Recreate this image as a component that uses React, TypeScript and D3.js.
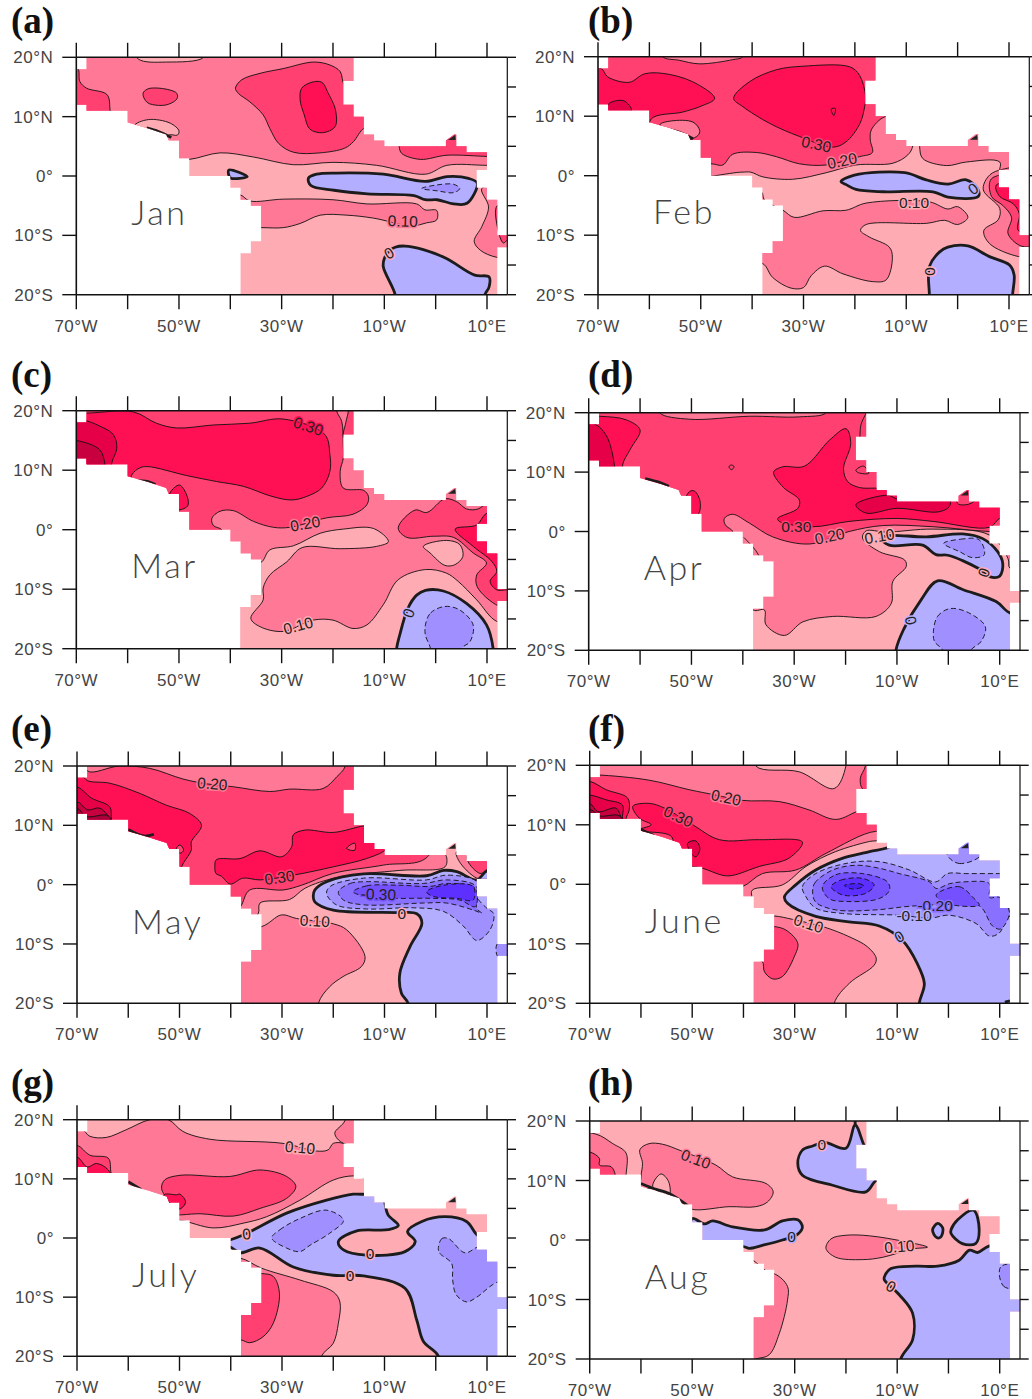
import React from "react";
import * as d3 from "d3";

type Shape = [number | null, number | null, number[]];
type Lab = [number, number, string, number, number];

const oceanOutline = [-68,20,-16,20,-16,16,-18,16,-18,12,-16,12,-16,10,-14,10,-14,7,-12,7,-12,6,-10,6,-10,5,2,5,2,6,3.6,7,4,7,4,5,6,5,6,4,10,4,10,1,8,1,8,-2,10,-2,10,-4,12,-4,12,-10,14,-10,14,-12,12,-12,12,-20,-38,-20,-38,-13,-36,-13,-36,-11,-34,-11,-34,-5,-36,-5,-36,-4,-38,-4,-38,-2,-40,-2,-40,0,-48,0,-48,3,-50,3,-50,6,-52,6,-52.5,7,-56,8,-60,9,-60,11,-68,11,-68,12,-70,12,-70,18,-68,18];
const islandWedge = [2.4,6.05,3.9,6.05,3.8,6.9];

const janShapes: Shape[] = [
  [.15,.1,[-48,2.8,-42,3.9,-35.5,3.2,-27.7,1.9,-20,2.3,-11.5,1.8,-2,.3,2.2,1.8,10,1.8,16,1.8,16,25,-75,25,-75,8,-52,3]],
  [.05,.1,[-57.9,19.7,-52.4,19.2,-45.2,20,-45,22,-59,22]],
  [.05,.1,[-58.7,8.4,-56,9.5,-51.7,8.9,-50,7.6,-50.3,6.9,-52,6.9,-54,5]],
  [.25,.2,[-69.8,18.2,-69.3,15.9,-68,14.8,-64,13.7,-63.4,11,-63,9,-75,9,-75,18.2]],
  [.25,.2,[-57,13.9,-56,14.7,-52.3,14.6,-50.4,13.9,-50.4,13,-52,12.1,-54,11.9,-56.2,12.4]],
  [.25,.2,[-39,14.8,-37.8,16.2,-34.2,17.3,-29.7,18.1,-23.8,19.2,-20.6,18.7,-18.6,17.6,-17.7,15.3,-14,15,-12,8,-14,8,-16,5.8,-17.7,4.7,-22.5,3.9,-27.7,4,-30.6,5.5,-32.3,8,-33.6,10.3,-36.2,12.5,-38.4,13.9]],
  [.35,.3,[-26.4,12.8,-26.1,14.8,-24.1,15.8,-22.2,15.8,-20.9,13.9,-19.5,11.1,-19.6,8.3,-22,7.3,-24.5,7.9,-25.6,10.3]],
  [.25,.2,[-7.1,4.9,-6.6,3.8,-3,2.8,2.2,3.5,10,3.3,12,3.3,12,7,-7.1,7]],
  [.15,.1,[9,-2.1,10.3,-5.2,9,-8.5,7.5,-11,8.7,-12.5,11.9,-13.7,16,-13.7,16,-2.1]],
  [.25,.2,[12,-5,12,-8.5,13.2,-11.3,14,-10.8,16,-11,16,-5]],
  [.15,.1,[-38,-3.2,-36.2,-4.2,-29.7,-3.9,-20,-4,-13.4,-4.7,-3.7,-4.7,-2.1,-5.7,.2,-5.8,.2,-7.4,-1.8,-7.9,-4.7,-8.4,-12.1,-7.1,-17.3,-6.6,-22.5,-6.6,-26.4,-8,-29.7,-8.7,-33.9,-8.7,-40,-8.7,-40,-3.2]],
  [-.05,0,[-24.8,-.4,-23.2,.3,-19.3,.5,-10.2,.3,-2,-.9,2.2,-.1,6.4,-.4,8.1,-1.2,6.1,-4.6,3.5,-4.7,.3,-4,-2,-4,-4.2,-3.3,-13.3,-3,-19.8,-2.4,-24.3,-1.6]],
  [-.15,-.1,[-2.7,-2.1,.3,-1.5,3.5,-1.4,4.7,-2.1,3.5,-2.8,.3,-2.5]],
  [-.05,0,[-40.3,1,-36.7,-.1,-40,-.3]],
  [-.05,0,[-7.9,-12,-6,-11.8,-2.4,-12.4,2.1,-13.9,7.6,-16.7,10.4,-17,10.4,-18.7,9.6,-20,9.6,-22,-7.9,-22,-7.9,-20,-10.2,-15.3,-10,-13.9,-9,-12.6]],
  [null,0,[-56.3,8.1,-54,7.5,-51.5,6.5]],
];
const janLabels: Lab[] = [[-6.4,-7.6,"0.10",2,.15],[-9.1,-13,"0",-30,.05]];

const febShapes: Shape[] = [
  [.15,.1,[-40.3,.6,-37.9,-.2,-32.1,-.6,-25.6,.5,-19.8,1.8,-12.6,2.1,-9.7,3.5,-8.7,5.1,-8.7,25,-75,25,-75,0,-42,.6]],
  [.15,.1,[-7.4,4.9,-6.8,2.9,-2.2,1.7,1.7,2.3,8.2,2.3,8.2,0,16,0,16,8,-7.4,8]],
  [.25,.2,[-48,2,-45.7,1.8,-43.8,3.6,-39.2,3.9,-35.3,3.2,-30.8,2,-25.6,1.8,-19.1,3.2,-16.6,3.9,-17,6,-16.8,7.7,-14.2,9.9,-10,10,-10,25,-75,25,-75,2]],
  [.15,.2,[-57.4,20,-54.2,19.4,-50.3,18.8,-43.8,19.5,-41.8,20,-41.8,22,-57.4,22]],
  [.35,.3,[-69.4,18,-68.1,16.6,-63.9,15.7,-61,17.1,-57.4,17.2,-51.6,15.8,-47.3,13,-49.9,11.7,-53.5,10.7,-59.7,9.5,-60,5,-75,5,-75,18]],
  [.45,.4,[-68,12,-65,12.6,-63.5,11,-68,10]],
  [.15,.2,[-58,8.5,-55.7,9.2,-51.5,9,-50.2,7.6,-50.5,6.8,-52.2,6,-55,5]],
  [.35,.3,[-43.6,13,-40.5,15.8,-35.3,17.8,-30.1,18.4,-21,18.3,-19.1,16.9,-17.9,13.3,-18.1,11.6,-19,8.8,-21.7,5.7,-24.3,4.8,-30.8,6.6,-36.6,8.8,-41.8,11.6]],
  [.35,.3,[-24.6,11.2,-23.8,11.3,-24.1,10.1]],
  [.15,.1,[-38.2,-2.7,-37.6,-4.1,-34,-5.8,-31.8,-7,-26.2,-5.9,-21.7,-5.8,-17.8,-4.6,-5.5,-4.4,-1.9,-5.6,0,-5.2,2,-7,0,-8.2,-2.5,-7.5,-6,-8,-17.8,-8.2,-18.9,-9.2,-17.2,-10.3,-13.3,-12,-12.7,-13.7,-13.9,-17.5,-16.5,-17.8,-22.3,-16.5,-25.9,-15.2,-28.5,-16.8,-30,-18.8,-32.4,-18.9,-36,-17.1,-37.9,-14.8,-42,-14.8,-42,-2.7]],
  [.15,.1,[8,.9,5.9,-.2,5,-2.4,8.2,-5.5,7.9,-7.4,5.1,-9.2,6.2,-11.4,11.9,-13.6,16,-13.6,16,.9]],
  [.25,.2,[6.6,-.5,6.6,-3.5,8.8,-5,10.5,-7,9.8,-9.7,12,-11.7,14,-12,16,-12,16,-.5]],
  [.35,.3,[7.5,-1.6,8.2,-3.5,10.8,-4.7,12,-6.4,11.8,-9.2,16,-9.2,16,-1.6]],
  [-.05,0,[-22.7,-1,-20.1,.1,-10.3,.5,-6.1,-.7,-1.9,-1.4,1.7,-.7,4,-2.4,4,-3.5,-1.9,-3.6,-4.8,-2.7,-14.5,-2.7,-19.8,-2.3,-21.7,-1.5]],
  [-.05,0,[-5.5,-20,-5.5,-15.3,-3.5,-12.8,-1.9,-12,2,-11.8,6.2,-13.6,10.1,-15,11,-16.7,10.7,-20,10.7,-22,-5.5,-22]],
  [null,0,[-58,8,-54.5,7.4,-51.5,6.2]],
];
const febLabels: Lab[] = [[-27.5,5.3,"0.30",12,.25],[-22.5,2.5,"0.20",-12,.15],[-8.5,-4.5,"0.10",0,.05],[3,-2.2,"0",-35,-.05],[-5.3,-16.1,"0",90,.05]];

const marShapes: Shape[] = [
  [.25,.2,[-41.7,0,-43.3,.7,-43.6,1.9,-42,3.1,-39.4,3.2,-35.5,1.4,-31.6,.4,-28.4,.4,-21.2,2,-16.1,2.6,-13.4,4.2,-13.1,5.6,-14,6.6,-18,7,-18.6,9.8,-18,12,-18,14.3,-18.3,18.2,-19.3,20,-19.3,25,-75,25,-75,-1,-42,-1]],
  [.25,.2,[-17,20,-17.5,18,-17.8,15.4,-10,15.4,-10,25,-17,25]],
  [.35,.3,[-68,19.6,-58.9,19.8,-54.4,17.9,-50.5,17.1,-43.3,17.6,-36.2,17.9,-29.7,18.6,-21.6,16,-20.6,12.6,-20.6,9.8,-22.2,7,-25.1,5.6,-28,5,-31.9,5.6,-37.5,7.3,-42.7,8.1,-48.5,9.1,-56,10.6,-57.6,10.4,-59.2,9.2,-60,5,-75,5,-75,19.6]],
  [.45,.4,[-69,18.5,-65.4,17.4,-62.8,16,-62.1,13.7,-63.1,11.2,-63,9,-75,9,-75,18.5]],
  [.55,.5,[-70,15,-65.4,13.4,-64.4,11,-64,9,-75,9,-75,15]],
  [.35,.3,[-51.8,6.1,-49.9,7.5,-48.4,5.6,-48.3,4,-50,3.3,-52,3.3]],
  [.05,.1,[-34.2,-5.6,-32.3,-3.4,-27.7,-2.7,-22.5,-.6,-18,.1,-12.1,.2,-9.2,-2,-11.5,-2.8,-18.6,-3.2,-26,-3,-29,-5.4,-32.3,-7.6,-33.6,-9.8,-33.6,-11.8,-36,-14.9,-34.2,-16.3,-29.7,-17.1,-23.9,-15.2,-20,-15.2,-16.1,-16.6,-13.4,-16,-10.2,-12.6,-7.3,-8.4,-2,-6.7,2.1,-7.3,4.4,-8.7,8,-11.8,11.9,-15.4,16,-15.4,16,-25,-45,-25,-45,-5.6]],
  [.05,.1,[-2.4,-2.8,2.1,-1.8,4.7,-2.5,5.3,-4.5,3.7,-5.9,1.8,-6,-1.1,-3.9]],
  [.25,.2,[-7.3,.3,-4,3.3,-1.7,2.9,1.8,5.2,4.1,4.7,6,3.5,8.3,3.5,12,6,16,6,16,-13.2,12.2,-12.8,8.1,-9.6,8,-7.6,9.9,-5.6,7.3,-3.9,3.5,-1.3,-.4,-1.1,-5.6,-1.3]],
  [.35,.3,[10,2.8,8,.8,3.8,.1,7.3,-2.8,10.9,-5.3,11.9,-7,10.6,-8.7,11.9,-10.1,13.9,-10.1,16,-10,16,2.8]],
  [-.05,0,[-7.6,-20,-7,-17.7,-5.4,-13.2,-3.7,-11,-2,-10.2,1.5,-10.3,6,-12.4,9.9,-16,11.2,-20,11.2,-22,-7.6,-22]],
  [-.15,-.1,[-2,-16,-1,-14,1.8,-12.9,4.7,-13.5,7.3,-16,6.7,-18.8,5,-20,5,-22,-1,-22,-1,-20,-2,-17.7]],
  [null,0,[-59.2,8.3,-56,8.1,-54.6,7.6]],
];
const marLabels: Lab[] = [[-24.8,17.4,"0.30",18,.35],[-25.4,1,"0.20",-10,.15],[-26.8,-16.1,"0.10",-15,.05],[-5.3,-14,"0",-70,-.05]];

const aprShapes: Shape[] = [
  [.15,.1,[-35.8,-13.2,-35.5,-15.7,-31.9,-17.5,-28.3,-15.2,-22.5,-14.3,-14.1,-14.3,-11.1,-12.1,-10.8,-8.4,-8.2,-5.9,-8.5,-4.8,-13.4,-3.4,-16.7,-1.1,-16,.1,-12.1,-.1,-3,.4,8,-.6,11.6,-4.5,12,-6.2,16,-6,16,25,-75,25,-75,-5,-42,-5,-38,-13.2]],
  [.25,.2,[-42,0,-43.4,1.1,-43.6,2.2,-42,2.9,-38.7,1.4,-34.2,-.9,-27,-2.1,-19.3,0,-12.8,1,-3,.8,8,0,16,0,16,25,-75,25,-75,-1,-43,-1]],
  [.15,.2,[-56.2,20,-50.4,18.9,-38.7,19.4,-29,19.3,-23.8,20,-23.8,22,-56.2,22]],
  [.35,.3,[-67.9,19.4,-62.7,18.8,-60,17.1,-61.8,14,-63.4,11.2,-63,9,-75,9,-75,19.4]],
  [.45,.4,[-69.1,18.2,-66.6,16.2,-65,11.2,-65,9,-75,9,-75,18.2]],
  [.35,.3,[-50.4,6.7,-49.4,6.8,-48.3,5,-48.8,2.8,-52,2.8]],
  [.25,.3,[-42.7,10.9,-42.2,11.2,-41.7,10.9,-42.2,10.4]],
  [.35,.3,[-34,10,-32.2,10.9,-28,11,-23.1,15.4,-19.9,17.3,-19,14.8,-20.4,10.6,-19.6,8.4,-17.3,7.4,-14.4,7.3,-11.8,7.3,-8,7.3,-8,5.5,1.2,5.5,2,4.6,4,4.6,6,5.5,12,5.5,12,2.2,10,2.2,8,.7,-3,1.7,-10,2.2,-19.3,1.7,-26.4,.8,-32.9,1.7,-33.2,2.2,-29.3,3.9,-29,5.3,-32.2,7.5]],
  [.45,.4,[-18,4.5,-11.8,6.1,-10,5.5,.2,5.5,.2,4.2,-2,3.3,-10,3.9,-16,3.1]],
  [.25,.3,[-18,10.3,-16.5,11,-15.5,9.8,-17.5,9.9]],
  [null,.3,[-16,19.9,-17,18,-17.2,15.7]],
  [-.05,0,[-13.1,-1.2,-11.8,-.7,-4.3,-.9,2.8,-.4,6.7,-1.2,9.6,-3.4,10.6,-5.4,10,-7.5,8,-7.6,5.8,-6.2,-.1,-4,-2.4,-3.9,-5,-2.3,-11.5,-2.3]],
  [-.15,-.1,[-.9,-2,2.4,-1.3,6,-1.4,7,-3.9,4.7,-4.4,2.2,-3.4]],
  [-.05,0,[-10.2,-20,-8.6,-16.3,-5.3,-11.5,-2.1,-8.3,2.9,-9.8,9.3,-11.8,12,-13.7,16,-14,16,-25,-10.2,-25]],
  [-.15,-.1,[-2.9,-16.8,-2.1,-14.3,.2,-13,3.5,-13.5,7.2,-16,6.4,-18.5,4.4,-20,4.4,-22,-1.1,-22,-1.1,-20,-2.7,-18.5]],
  [null,0,[-59,8.9,-56,8.2,-54.4,7.6]],
  [null,.1,[-39.8,-1,-37.5,-3.2,-36.2,-5.2]],
];
const aprLabels: Lab[] = [[-29.6,.9,"0.30",0,.25],[-23.1,-.8,"0.20",-12,.15],[-13.4,-.8,"0.10",-10,.05],[6.9,-6.9,"0",-70,.05],[-7.3,-15,"0",80,-.05]];

const mayShapes: Shape[] = [
  [.15,.1,[-34.6,-4.8,-34.3,-3.1,-28.5,-2.5,-25.5,-.6,-19.3,1.2,-7,2.4,1.8,3,2.1,4.7,1.5,5.5,1.5,25,-75,25,-75,-6,-36,-6]],
  [.15,.1,[4.1,5.6,4.6,3.9,8,1.1,10,1,16,1,16,5.6]],
  [.25,.2,[6.3,3.9,8.6,1.9,10,2.2,16,2.2,16,5,6.3,5]],
  [.25,.2,[-38.1,-3.7,-36.3,-.9,-29.8,-.9,-26.2,-.1,-20,1.9,-10.2,3.3,-1.4,4.9,-1.4,25,-75,25,-75,-5,-40,-5]],
  [.15,.2,[-68,19.2,-61.7,20,-55.8,19.6,-49.3,17.8,-44.7,17,-39.5,16.5,-32.4,15.7,-28.5,16.1,-22,16.2,-19.3,18.2,-17.7,19.9,-17.7,25,-68,25]],
  [.35,.3,[-69.2,18.4,-67.9,17.5,-63.6,17.1,-57.8,15.4,-52.6,13.4,-48,12,-45.7,10,-47.7,7.2,-47.7,5.8,-49.6,3,-50,0,-75,0,-75,18.4]],
  [.35,.3,[-42.9,1.9,-43.1,3,-42.8,4.2,-38.2,4.4,-34.3,5.7,-30.1,4.7,-28.1,6.4,-27.8,8.4,-25.5,9.2,-20,8.8,-14.1,9.9,-12,10,-9,7,-9.9,5.8,-13.5,4.4,-20,3,-27.8,1.6,-34.3,.8,-37.6,1.1,-40.1,.1,-41.8,1.4]],
  [.25,.3,[-17.4,6.1,-15.8,7,-15.8,5.8]],
  [.25,.3,[-50.6,6.1,-49.9,6.7,-49.2,5.8,-49.9,5.3]],
  [.45,.4,[-70,16.5,-67.2,14.6,-63.6,13.1,-63.3,11,-63,9,-75,9,-75,16.5]],
  [.55,.5,[-70,14,-67.9,12.6,-65.6,12.9,-63.6,11.1,-63,9,-75,9,-75,14]],
  [.65,.6,[-70,12.9,-68.2,11.5,-63.9,11.6,-63,9,-75,9,-75,12.9]],
  [.15,.1,[-34.1,-7.1,-30.1,-5.1,-27.2,-5.7,-20,-6.6,-17.4,-7.6,-13.8,-12.1,-14.5,-13.8,-18.1,-15.5,-20.7,-17.2,-22.9,-20,-22.9,-25,-45,-25,-45,-7.1]],
  [-.05,0,[-23.9,-2,-23.6,-.9,-21.3,.5,-14.1,1.8,-1.8,1.5,1.5,2.4,4.1,2.2,8,.8,10.1,2.4,16,2.4,16,-25,-5.4,-25,-5.4,-20,-6.7,-18.3,-7,-14.9,-5,-10.4,-2.7,-6.5,-3.7,-4.9,-7.6,-4.7,-20,-4.3,-23.6,-2.9]],
  [-.15,-.1,[-21.3,-1.5,-20.6,-.3,-14.1,1.1,-1.8,.8,2.1,1.6,8,.5,8,-2,10,-4,11.3,-4.9,10.6,-7.6,8,-9.4,5.4,-7,1.5,-4.5,-4.4,-3.9,-13.5,-4.1,-19.4,-3.4]],
  [-.25,-.2,[-19,-1.2,-16.7,.2,-13.5,.5,-2.4,.2,2.1,.8,7.9,-.3,8,-4,9,-4.8,7.4,-4.3,2.1,-3.1,-2.4,-3.1,-14.1,-3.4,-18,-2.6]],
  [-.35,-.3,[-16.1,-1.2,-13.5,-.2,-7,-.1,-1.1,-.3,2.1,.2,7.7,-.6,7.7,-3.7,4.7,-2.6,-1.1,-2.3,-8.3,-2.3,-13.5,-2]],
  [-.45,-.4,[-1.8,-1.2,1.5,-.1,7.3,-.3,7.3,-2.6,4.1,-2.3,-.4,-2]],
  [-.15,-.1,[12,-10,14,-10,14.5,-11,13,-12.5,12,-12]],
  [null,0,[-60,9.3,-57,8.2,-55,8.5]],
];
const mayLabels: Lab[] = [[-43.6,17,"0.20",5,.15],[-30.5,1.2,"0.30",-8,.25],[-11.2,-1.6,"-0.30",2,-.35],[-23.6,-6.1,"0.10",3,.05],[-6.6,-4.8,"0",0,.05]];

const junShapes: Shape[] = [
  [.15,.1,[-38.3,-2.9,-38.3,-1,-32.4,-.1,-27.8,3,-22,5.5,-15.4,7.2,-13.2,7.5,-12,9,-12,25,-75,25,-75,-5,-40,-5]],
  [.05,.1,[-37.6,19.9,-29.1,18.9,-22.3,16.1,-20,19.9,-20,25,-37.6,25]],
  [.25,.2,[-16.2,19.9,-17.2,17.8,-16.6,15.9,-10,15.9,-10,25,-16.2,25]],
  [.25,.2,[-68.8,18.4,-58.4,17.5,-50.6,15.9,-45.4,15,-40.2,14.1,-33,13.9,-27.2,12.5,-22,10.9,-16.8,12.5,-10,12.5,-10,8,-14.2,8.9,-23.9,5.2,-29.8,2.4,-36.3,1.8,-40.2,-.4,-45,-1,-75,-1,-75,18.4]],
  [.35,.3,[-61.6,13.1,-58.4,13.6,-55.4,12.8,-49.9,10,-44.7,7.5,-36.9,7.5,-28.5,7.1,-31.1,4.4,-36.9,3,-42.1,1.5,-44,1.5,-48,2.7,-50,3,-54,3,-54,8,-61,9,-58,10,-60.3,11.1]],
  [.45,.4,[-50.9,6.9,-49.3,7.3,-48.5,6,-49.3,4.6,-50.2,5.2]],
  [.35,.3,[-70,17.3,-66.8,15.9,-62.6,14.5,-62.3,12.5,-62.9,11.1,-63,9,-75,9,-75,17.3]],
  [.45,.4,[-70,15,-66.8,14.2,-63.6,13.3,-63.6,11.1,-63,9,-75,9,-75,15]],
  [.55,.5,[-70,13.6,-68.4,12.2,-64.9,12.8,-63.9,11.3,-63,9,-75,9,-75,13.6]],
  [.65,.6,[-69.7,12.5,-68.1,11.5,-64.2,11.5,-63,9,-75,9,-75,12.5]],
  [.15,.1,[-34.2,-5.3,-30.4,-5.9,-24.2,-7.2,-19.4,-8.8,-15.8,-10.5,-14.1,-12.4,-14.5,-13.6,-19.3,-16.6,-22.3,-20,-22.3,-25,-45,-25,-45,-5.3]],
  [.25,.2,[-34,-7.1,-31.7,-7.7,-29.4,-9.9,-30.1,-12.2,-32.4,-15.5,-34.3,-15.9,-35.9,-14.7,-36.3,-13,-37.7,-12.8,-40,-12.8,-40,-7.1]],
  [-.05,0,[-11.2,6.5,-15.4,5.5,-20.6,4.4,-25.9,2.4,-29.8,-.1,-32,-2.1,-31.4,-3.2,-25.9,-5.4,-19.4,-6.3,-13.5,-7,-9,-9.4,-6.1,-13.3,-4.7,-16.7,-5.7,-20,-5.7,-25,16,-25,16,8,-11.2,8]],
  [-.15,-.1,[-27.8,-2.1,-28.5,-.4,-25.9,1.8,-19.4,3.6,-13.5,3.8,-7.6,2.4,-2.5,.4,-.2,1.8,3.4,1.8,9.9,1.8,16,1.8,16,-6,11.9,-5.4,9.9,-8.2,8,-8.7,5.4,-6.6,.2,-5.2,-3.7,-5.7,-9.3,-5.2,-20.7,-4.9,-25.9,-4]],
  [-.15,-.1,[-.2,4.9,2.1,3.5,6.3,4.9,6.3,9,-.2,9]],
  [-.25,-.2,[-26.5,-1.3,-26.1,.2,-22.6,2.4,-18,3.2,-13.5,2.7,-9.6,1.8,-3.7,.4,-2.4,-.7,.2,.1,2.8,.4,8,.1,8,-2.2,9.9,-2.2,11.9,-4.7,10.2,-7.5,8.6,-7,6,-3.6,-.5,-3.4,-7.7,-3.7,-14.2,-4.3,-22,-4.3,-25.9,-3]],
  [-.35,-.3,[-24.6,-.4,-22,1.6,-16.8,1.8,-11.9,.4,-11.5,-1,-13.5,-2.4,-19.4,-2.9,-23.3,-2.4]],
  [-.35,-.3,[-2.4,-1.8,2.1,-.4,5,-2.4,6,-3.5,-.5,-3.2]],
  [-.45,-.4,[-22.9,-.4,-21,.7,-16.8,1,-14.5,-.1,-16.1,-1.5,-20.6,-1.8]],
  [-.55,-.5,[-20.3,-.2,-17.4,.1,-16.5,-.3,-18.7,-.8]],
  [null,0,[-60,9.2,-57.5,8.2]],
  [null,0,[11,-19.8,12,-19.6]],
];
const junLabels: Lab[] = [[-43.4,14.6,"0.20",12,.15],[-52.7,11.4,"0.30",25,.25],[-27.3,-6.6,"0.10",18,.05],[-2.6,-3.6,"-0.20",0,-.25],[-6.7,-5.3,"-0.10",0,-.05],[-9.6,-8.8,"0",-30,-.05]];

const julShapes: Shape[] = [
  [.15,.1,[-69.2,18.5,-67.5,17.2,-64.3,17,-60.4,18.3,-55.8,20,-52.2,20,-49.3,18,-44.1,16.7,-29.8,16,-23.3,14.7,-21,14.9,-20,16,-18,16,-16,15,-12,10,-14.5,10.2,-16.1,10.5,-20,9.8,-26.5,6.4,-33,3.6,-37.6,2.5,-43.4,1.7,-50,3,-55,3,-75,3,-75,18.5]],
  [.15,.1,[-17.7,19.9,-19.7,17.7,-18,16,-12,16,-12,25,-17.7,25]],
  [.25,.2,[-53.5,8.4,-52.9,9.8,-49.9,10.6,-40.2,10.4,-34.3,11.5,-29.1,10.4,-27.3,8.7,-29.1,6.7,-34.3,5,-39.5,3.7,-46,4.1,-49.9,3.9,-51,3.9,-52,6]],
  [.35,.3,[-50.6,7.3,-49.9,7.4,-48.8,6.1,-49.9,4.9,-53,5,-53,7.3]],
  [.25,.2,[-70,15.7,-67.5,14,-63.9,13.5,-63.4,11.2,-63,9,-75,9,-75,15.7]],
  [.35,.3,[-70,13.7,-68,12,-66.2,12.6,-63.9,11.5,-63,9,-75,9,-75,13.7]],
  [.15,.1,[-38.1,-3.4,-34,-5.1,-26.5,-7.1,-20,-9.1,-18.7,-10.8,-19,-14.4,-20,-17.8,-22.3,-20,-22.3,-25,-42,-25,-42,-3.4]],
  [.25,.2,[-34.1,-6,-31.7,-6.5,-30.5,-9.4,-31.7,-14.4,-33.7,-16.7,-36.3,-17.7,-38.1,-17.2,-42,-17.2,-42,-6]],
  [-.05,0,[-41.2,-.6,-37.6,.5,-29.1,4.2,-21.3,6.4,-16.1,7.4,-12.8,7.4,-10,8,-9.9,5.9,-9.3,3.9,-7.3,2.1,-9.3,1.4,-15.4,1.2,-19,-.6,-18,-2,-13.5,-2.9,-6,-2.3,-4,-.6,-5.5,1.1,-2.7,2.8,1.8,3.6,6,2.8,8.6,.2,16,.2,16,-25,.5,-25,.5,-20,-2.4,-17.5,-3.7,-13.9,-6,-8.5,-14.1,-6.4,-20,-6.3,-27.8,-4.9,-34.3,-1.7,-38.2,-2.5,-40.2,-1.5,-45,-1]],
  [-.15,-.1,[-32,0,-30.4,1.4,-26.5,3.3,-21.3,4.7,-18,3,-20.7,.8,-24.5,-1.2,-26.5,-2.3,-29.1,-1.7]],
  [-.15,-.1,[.5,-1.8,1.2,-.1,2.5,-.1,5.7,-2.5,8.6,-1.4,16,-1.4,16,-7,11.9,-7.5,8,-10,6,-10.8,4,-9.6,3.3,-7.1,3.1,-4.3,.8,-2.6]],
  [null,0,[-60,9.5,-57.5,8.2]],
  [null,.1,[-57,8.1,-52.5,6.2,-50,5]],
];
const julLabels: Lab[] = [[-26.5,15.3,"0.10",5,.05],[-36.9,.7,"0",-5,.05],[-12.8,-2.6,"0",0,.05],[-16.7,-6.3,"0",0,.05]];

const augShapes: Shape[] = [
  [.15,.1,[-68.8,17.8,-65.5,16.2,-62.9,14.6,-62.9,10.9,-63,9,-75,9,-75,17.8]],
  [.25,.2,[-70,14.8,-68.1,13.7,-68.1,12.6,-65.8,12.3,-65,10.9,-65,9,-75,9,-75,14.8]],
  [.15,.1,[-60,10.6,-59.7,12.9,-60.2,15.2,-58.4,16.2,-55.8,16.1,-52.2,15,-45.4,12.6,-42.1,10.6,-35.6,9.5,-34.2,8.1,-35.3,6.4,-37.6,5.6,-42.8,5.6,-50.2,5.2,-52.5,6.7,-55.1,7.8,-58.4,8.7,-60,8]],
  [.05,.1,[-57.7,9,-56.1,11.1,-54.6,9.8,-54.5,7.6]],
  [null,0,[-60,9.5,-57.7,8.7,-54.5,7.8,-50.6,5.6]],
  [-.05,0,[-26.5,15.8,-28.5,15.1,-29.4,12.9,-28.5,10.9,-22.6,9.2,-16.1,8.1,-14.1,10,-12,10,-12,14,-15,14,-16.4,15.8,-18.2,19.3,-20,15.4,-24.2,16.4]],
  [null,0,[-18.2,20,-18.2,19.3]],
  [-.05,0,[-50,3.6,-47.6,2.7,-46,3.2,-42.1,2.2,-35.9,1.7,-32.4,3.2,-29.4,3.4,-28.5,2.2,-29.4,1,-32.4,0,-36.3,-.9,-38.9,-1.4,-40,-1.1,-50,-2]],
  [-.05,0,[-2.1,2.8,-1.1,2,-1.5,.5,-2.3,.4,-3.1,1.7]],
  [-.05,0,[.5,1.7,1.8,3.4,4.9,5,6,1.7,5.3,-.6,2.7,-.6,.5,1.1]],
  [.15,.1,[-23.9,-1.4,-22.9,.2,-20,.8,-15.4,.7,-8.3,-.3,-4.1,-1.2,-7,-1.5,-12.8,-2.9,-16.8,-3.3,-22,-2.9]],
  [-.05,0,[-12.5,-6.2,-11.2,-4.8,-6.3,-4.4,-2.1,-4.4,2.1,-3.4,4.1,-1.7,5.7,-2.1,8,-1,16,-1,16,-25,-9.3,-25,-9.3,-20,-7,-16.8,-7,-12.3,-9.6,-9.2,-12.5,-6.7]],
  [-.15,-.1,[10.2,-4.5,10.8,-7.8,16,-7.8,16,-4.5]],
  [.15,.1,[-34.2,-5.6,-31.4,-7.8,-31.4,-10.1,-33,-15.7,-35,-19.3,-37.6,-20,-45,-22,-45,-5.6]],
  [null,.1,[-38.1,-3.4,-35,-5.6]],
];
const augLabels: Lab[] = [[-49.3,13.6,"0.10",20,.15],[-24.7,16,"0",0,.05],[-30.6,.6,"0",0,-.05],[-9.6,-1.1,"0.10",-5,.05],[-11.2,-7.8,"0",30,.05]];

const panelNames = ["(a)","(b)","(c)","(d)","(e)","(f)","(g)","(h)"];
const monthNames = ["Jan","Feb","Mar","Apr","May","June","July","Aug"];
const baseBands = [.05,.05,.15,.05,.05,.05,.05,.05];
const monthShapes = [janShapes,febShapes,marShapes,aprShapes,mayShapes,junShapes,julShapes,augShapes];
const monthLabels = [janLabels,febLabels,marLabels,aprLabels,mayLabels,junLabels,julLabels,augLabels];
const lonTicks = [-70,-60,-50,-40,-30,-20,-10,0,10];
const lonLabels: [number,string][] = [[-70,"70°W"],[-50,"50°W"],[-30,"30°W"],[-10,"10°W"],[10,"10°E"]];
const latMajor: [number,string][] = [[20,"20°N"],[10,"10°N"],[0,"0°"],[-10,"10°S"],[-20,"20°S"]];
const latAll = [20,15,10,5,0,-5,-10,-15,-20];

// layout: left, 10E position, right frame, top, bottom, title x, title baseline
const frames = [
  [76.3,487,507.3,57.3,294.7,11,33],
  [598,1009,1029.3,56.7,294.7,588,33],
  [76.3,487,507.3,410.7,648.7,11,387],
  [588.7,999.7,1020,412.7,650.3,588,387],
  [77,487,507.3,766,1003.3,11,741],
  [589.7,999.7,1020,765.3,1003.3,588,741],
  [77,487,507.3,1119.7,1356.3,11,1095],
  [589.7,999.7,1020,1121,1359,588,1095],
];

const bandColor = d3.scaleThreshold<number,string>()
  .domain([-.5,-.4,-.3,-.2,-.1,0,.1,.2,.3,.4,.5,.6])
  .range(["#4a20f2","#5d30ff","#7550ff","#8a70ff","#a08fff","#b3aeff","#ffabb4","#ff7896","#ff4070","#ff1055","#e60048","#c80040","#a80038"]);

const pairs = (f: number[]) => d3.range(0, f.length, 2).map(i => [f[i], f[i + 1]] as [number, number]);
const SANS = "'Liberation Sans', Arial, sans-serif";
const THIN = "Lato, 'Liberation Sans', sans-serif";

function Panel({ i }: { i: number }) {
  const [x0, x10, xr, yt, yb, tx, ty] = frames[i];
  const x = d3.scaleLinear().domain([-70, 10]).range([x0, x10]);
  const y = d3.scaleLinear().domain([-20, 20]).range([yb, yt]);
  const line = d3.line<[number, number]>().x(d => x(d[0])).y(d => y(d[1]));
  const smoothClosed = d3.line<[number, number]>().x(d => x(d[0])).y(d => y(d[1])).curve(d3.curveCatmullRomClosed.alpha(0.5));
  const smoothOpen = d3.line<[number, number]>().x(d => x(d[0])).y(d => y(d[1])).curve(d3.curveCatmullRom.alpha(0.5));
  const ocean = line(pairs(oceanOutline)) + "Z";
  const id = `ocean${i}`;
  const axis = "#111";
  return (
    <g>
      <defs><clipPath id={id}><path d={ocean} /></clipPath></defs>
      <text x={tx} y={ty} fontFamily="'Liberation Serif', serif" fontWeight="bold" fontSize={37} fill="#111">{panelNames[i]}</text>
      <path d={ocean} fill={bandColor(baseBands[i])} />
      <g clipPath={`url(#${id})`}>
        {monthShapes[i].map(([band, lev, c], k) => {
          const d = band === null ? smoothOpen(pairs(c)) : smoothClosed(pairs(c));
          const thick = lev === 0;
          return (
            <path key={k} d={d as string} fill={band === null ? "none" : bandColor(band)}
              stroke={lev === null ? "none" : thick ? "#1c1c1c" : "#111"}
              strokeWidth={thick ? 2.8 : 0.9}
              strokeDasharray={lev !== null && lev < 0 ? "5 3" : undefined}
              strokeLinejoin="round" />
          );
        })}
        <path d={line(pairs(islandWedge)) + "Z"} fill="#222" />
      </g>
      {monthLabels[i].map(([lo, la, t, r, b], k) => (
        <text key={k} transform={`translate(${x(lo)},${y(la)}) rotate(${r})`} textAnchor="middle" dominantBaseline="central"
          fontFamily={SANS} fontSize={15.5} fill="#222" stroke={bandColor(b)} strokeWidth={3} paintOrder="stroke">{t}</text>
      ))}
      <text x={x0 + 55} y={yt + 167.5} fontFamily={THIN} fontWeight={300} fontSize={34} letterSpacing={2.6} fill="#444">{monthNames[i]}</text>
      <line x1={x0} x2={xr} y1={yt} y2={yt} stroke={axis} strokeWidth={1.4} />
      <line x1={x0} x2={xr} y1={yb} y2={yb} stroke={axis} strokeWidth={1.4} />
      <line x1={x0} x2={x0} y1={yt} y2={yb} stroke={axis} strokeWidth={1.6} />
      <line x1={xr} x2={xr} y1={yt} y2={yb} stroke={axis} strokeWidth={1.2} />
      {lonTicks.map(t => (
        <g key={t} stroke={axis} strokeWidth={1.4}>
          <line x1={x(t)} x2={x(t)} y1={yt - 14.5} y2={yt} />
          <line x1={x(t)} x2={x(t)} y1={yb} y2={yb + 14.5} />
        </g>
      ))}
      {latMajor.map(([t]) => <line key={t} x1={x0 - 14} x2={x0} y1={y(t)} y2={y(t)} stroke={axis} strokeWidth={1.4} />)}
      {latAll.map(t => <line key={t} x1={xr} x2={xr + 8.7} y1={y(t)} y2={y(t)} stroke={axis} strokeWidth={1.4} />)}
      {latMajor.map(([t, s]) => (
        <text key={t} x={x0 - 23} y={y(t) + 6} textAnchor="end" fontFamily={SANS} fontSize={17} letterSpacing={0.5} fill="#444">{s}</text>
      ))}
      {lonLabels.map(([t, s]) => (
        <text key={t} x={x(t)} y={yb + 37} textAnchor="middle" fontFamily={SANS} fontSize={17} letterSpacing={0.5} fill="#444">{s}</text>
      ))}
    </g>
  );
}

export default function App() {
  return (
    <svg width={1032} height={1399} viewBox="0 0 1032 1399" style={{ position: "absolute", left: 0, top: 0, display: "block", background: "#fff" }}>
      {frames.map((_, i) => <Panel key={i} i={i} />)}
    </svg>
  );
}
